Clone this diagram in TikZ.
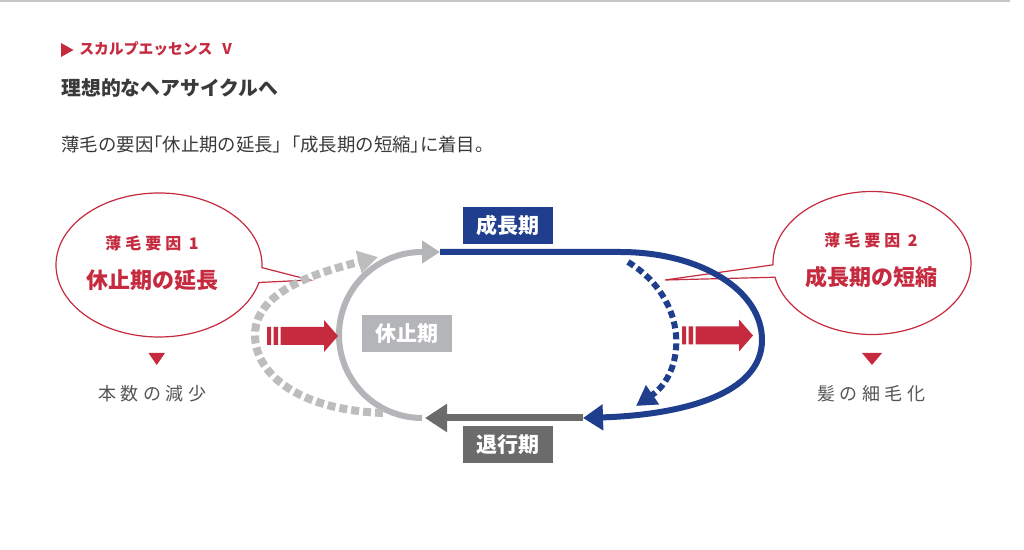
\documentclass[tikz,border=0pt]{standalone}
\usepackage{fontspec}
\setmainfont{Noto Sans CJK JP}
\newfontfamily\spaced{Noto Sans CJK JP}[LetterSpace=25]
\usetikzlibrary{arrows.meta,positioning,shapes.callouts}

\definecolor{hairred}{HTML}{C52A3E}
\definecolor{hairink}{HTML}{3A3A3A}
\definecolor{hairgray}{HTML}{555555}
\definecolor{growblue}{HTML}{1F3F8E}
\definecolor{restgray}{HTML}{B3B5B8}
\definecolor{backgray}{HTML}{6B6B6B}
\definecolor{dotgray}{HTML}{BDBDBD}

\tikzset{pics/push/.style={code={
  \fill[hairred] (0,-9) rectangle (4,9) (6.5,-9) rectangle (11,9)
    (13.5,-9) -- (57,-9) -- (57,-16) -- (71,0) -- (57,16) -- (57,9)
    -- (13.5,9) -- cycle;}}}

\begin{document}
\begin{tikzpicture}[x=0.5pt,y=-0.5pt,
    phase/.style={fill=#1,text=white,inner sep=0pt,
                  minimum width=45pt,minimum height=18.5pt,
                  font=\bfseries\fontsize{10.5}{12}\selectfont},
    bubble/.style={ellipse callout,draw=hairred,line width=0.6pt,
                   callout pointer arc=12},
    cause/.style={text=hairred,inner sep=0pt,
                  font=\spaced\bfseries\fontsize{8}{10}\selectfont},
    effect/.style={text=hairred,inner sep=0pt,
                   font=\bfseries\fontsize{11}{13}\selectfont},
    result/.style={text=hairgray,inner sep=0pt,
                   font=\spaced\fontsize{9}{11}\selectfont},
    flow/.style={line width=3pt}]
  \useasboundingbox[fill=white] (0,0) rectangle (1024,550);
  \draw[gray!45,line width=1pt] (0,1.5) -- (1010,1.5);

  % heading
  \fill[hairred] (61,43) -- (73.5,50) -- (61,57) -- cycle;
  \node[anchor=west,text=hairred,inner sep=0pt,
        font=\bfseries\fontsize{7.4}{9}\selectfont] (series) at (79,49)
    {スカルプエッセンス\hspace{5pt}V};
  \node[anchor=west,text=hairink,inner sep=0pt,
        font=\bfseries\fontsize{9.9}{12}\selectfont] (title) at (61,88)
    {理想的なヘアサイクルへ};
  % half-width brackets, as printed
  \node[anchor=west,text=hairink,inner sep=0pt,
        font=\fontsize{9.2}{11}\selectfont] (lead) at (61,145)
    {薄毛の要因\kern-.5em「休止期の延長」\kern-.5em「成長期の短縮」\kern-.5em に着目。};

  % the two causes
  \node[bubble,minimum width=103pt,minimum height=72pt,
        callout absolute pointer={(310,280)}] (bubbleL) at (159,265) {};
  \node[bubble,minimum width=99pt,minimum height=71.5pt,
        callout pointer arc=10,
        callout absolute pointer={(665,280)}] (bubbleR) at (872,263) {};
  \node[cause] (causeL) at (152,243) {薄毛要因 1};
  \node[effect,below=9pt of causeL] (effectL) {休止期の延長};
  \node[cause] (causeR) at (871,240) {薄毛要因 2};
  \node[effect,below=9pt of causeR] (effectR) {成長期の短縮};
  \fill[hairred] (148.5,353) -- (165,353) -- (156.7,365) -- cycle;
  \fill[hairred] (862,353) -- (882,353) -- (872,365) -- cycle;
  \node[result] (resultL) at (152,394) {本数の減少};
  \node[result] (resultR) at (871,394) {髪の細毛化};

  % hair cycle
  \coordinate (growL) at (440,252);
  \coordinate (growR) at (620,252);
  \coordinate (growTip) at (583,418);
  \coordinate (backTip) at (425,418);
  \coordinate (restBot) at (422,418);
  \coordinate (shortA) at (628,262);
  \coordinate (shortTip) at (636,406);
  \coordinate (longA) at (383,413);
  \coordinate (longTip) at (378,257);

  \draw[flow,restgray,-{Triangle[length=9pt,width=11pt]}]
    (restBot) arc[start angle=90,end angle=270,radius=83] -- (growL);
  \draw[line width=4pt,dotgray,dash pattern=on 4pt off 2pt,
        -{Triangle[length=10pt,width=11pt]}]
    (longA) .. controls (300,410) and (255,375) .. (255,335)
    .. controls (255,290) and (320,272) .. (longTip);
  \draw[line width=3.5pt,backgray,-{Triangle[length=11pt,width=13.5pt]}]
    (growTip) -- (backTip);
  \draw[flow,growblue,-{Triangle[length=10pt,width=12.5pt]}]
    (growL) -- (growR) .. controls (700,252) and (762,290) .. (762,340)
    .. controls (762,395) and (680,415) .. (growTip);
  \draw[line width=3pt,growblue,dash pattern=on 3.5pt off 2pt,
        -{Triangle[length=10pt,width=11pt]}]
    (shortA) .. controls (690,300) and (686,372) .. (shortTip);

  \pic at (267,336) {push};
  \pic at (682,335.5) {push};

  \node[phase=growblue] (grow) at (508,225.5) {成長期};
  \node[phase=restgray] (rest) at (406.5,334) {休止期};
  \node[phase=backgray] (back) at (507.5,445) {退行期};
\end{tikzpicture}
\end{document}
